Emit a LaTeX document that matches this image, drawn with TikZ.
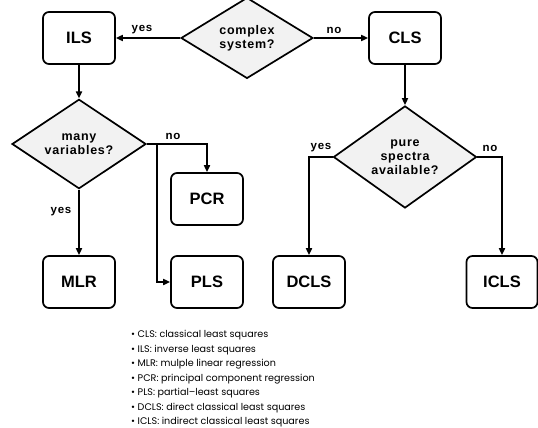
\documentclass[tikz,border=0pt]{standalone}
\usepackage{fontspec}
\setmainfont{Liberation Sans}
\newfontfamily\legfont{Poppins}
\newfontfamily\dfont[LetterSpace=6]{Liberation Sans}
\usetikzlibrary{shapes.geometric,arrows.meta}
\definecolor{dfill}{HTML}{F2F2F2}
\tikzset{
  box/.style={draw, line width=1.7pt, rounded corners=6pt, minimum width=72pt, minimum height=52pt, font=\fontsize{16.5}{18}\selectfont\bfseries, inner sep=0pt},
  dec/.style={draw, diamond, fill=dfill, line width=1.7pt, inner sep=0pt, align=center, font=\dfont\fontsize{12.5}{14}\selectfont\bfseries},
  conn/.style={line width=1.7pt, -{Triangle[length=7pt,width=6pt]}},
  lab/.style={font=\dfont\fontsize{11.5}{12}\selectfont\bfseries, inner sep=1pt}
}
\begin{document}
\begin{tikzpicture}[x=1pt,y=-1pt]
\useasboundingbox (0,0) rectangle (538,428);
\node[box] (ILS) at (79,38) {ILS};
\node[dec, minimum width=132pt, minimum height=68pt] (cs) at (247,38) {complex\\system?};
\node[box] (CLS) at (405,38) {CLS};
\node[dec, minimum width=134pt, minimum height=72pt] (mv) at (79,144) {many\\variables?};
\node[box] (PCR) at (207,199) {PCR};
\node[box] (PLS) at (207,282) {PLS};
\node[box] (MLR) at (79,282) {MLR};
\node[dec, minimum width=143pt, minimum height=66pt] (ps) at (405,157) {pure\\spectra\\available?};
\node[box] (DCLS) at (309,282) {DCLS};
\node[box, minimum width=71pt] (ICLS) at (502,282) {ICLS};
\coordinate (split) at (157,144);

\draw[conn] (cs.west) -- (ILS.east);
\node[lab] (l1) at (142,30) {yes};
\draw[conn] (cs.east) -- (CLS.west);
\node[lab] (l2) at (334,30) {no};
\draw[conn] (ILS.south) -- (mv.north);
\draw[conn] (mv.east) -| (PCR.north);
\node[lab] (l3) at (173,136) {no};
\draw[conn] (split) |- (PLS.west);
\draw[conn] (mv.south) -- (MLR.north);
\node[lab] (l4) at (61,212) {yes};
\draw[conn] (CLS.south) -- (ps.north);
\draw[conn] (ps.west) -| (DCLS.north);
\node[lab] (l5) at (321,148) {yes};
\draw[conn] (ps.east) -| (ICLS.north);
\node[lab] (l6) at (490,148) {no};

\node[anchor=north west, align=left, inner sep=0pt, font=\legfont\fontsize{9.6}{14.5}\selectfont] (leg) at (131,330) {%
• CLS: classical least squares\\
• ILS: inverse least squares\\
• MLR: mulple linear regression\\
• PCR: principal component regression\\
• PLS: partial–least squares\\
• DCLS: direct classical least squares\\
• ICLS: indirect classical least squares};
\end{tikzpicture}
\end{document}
